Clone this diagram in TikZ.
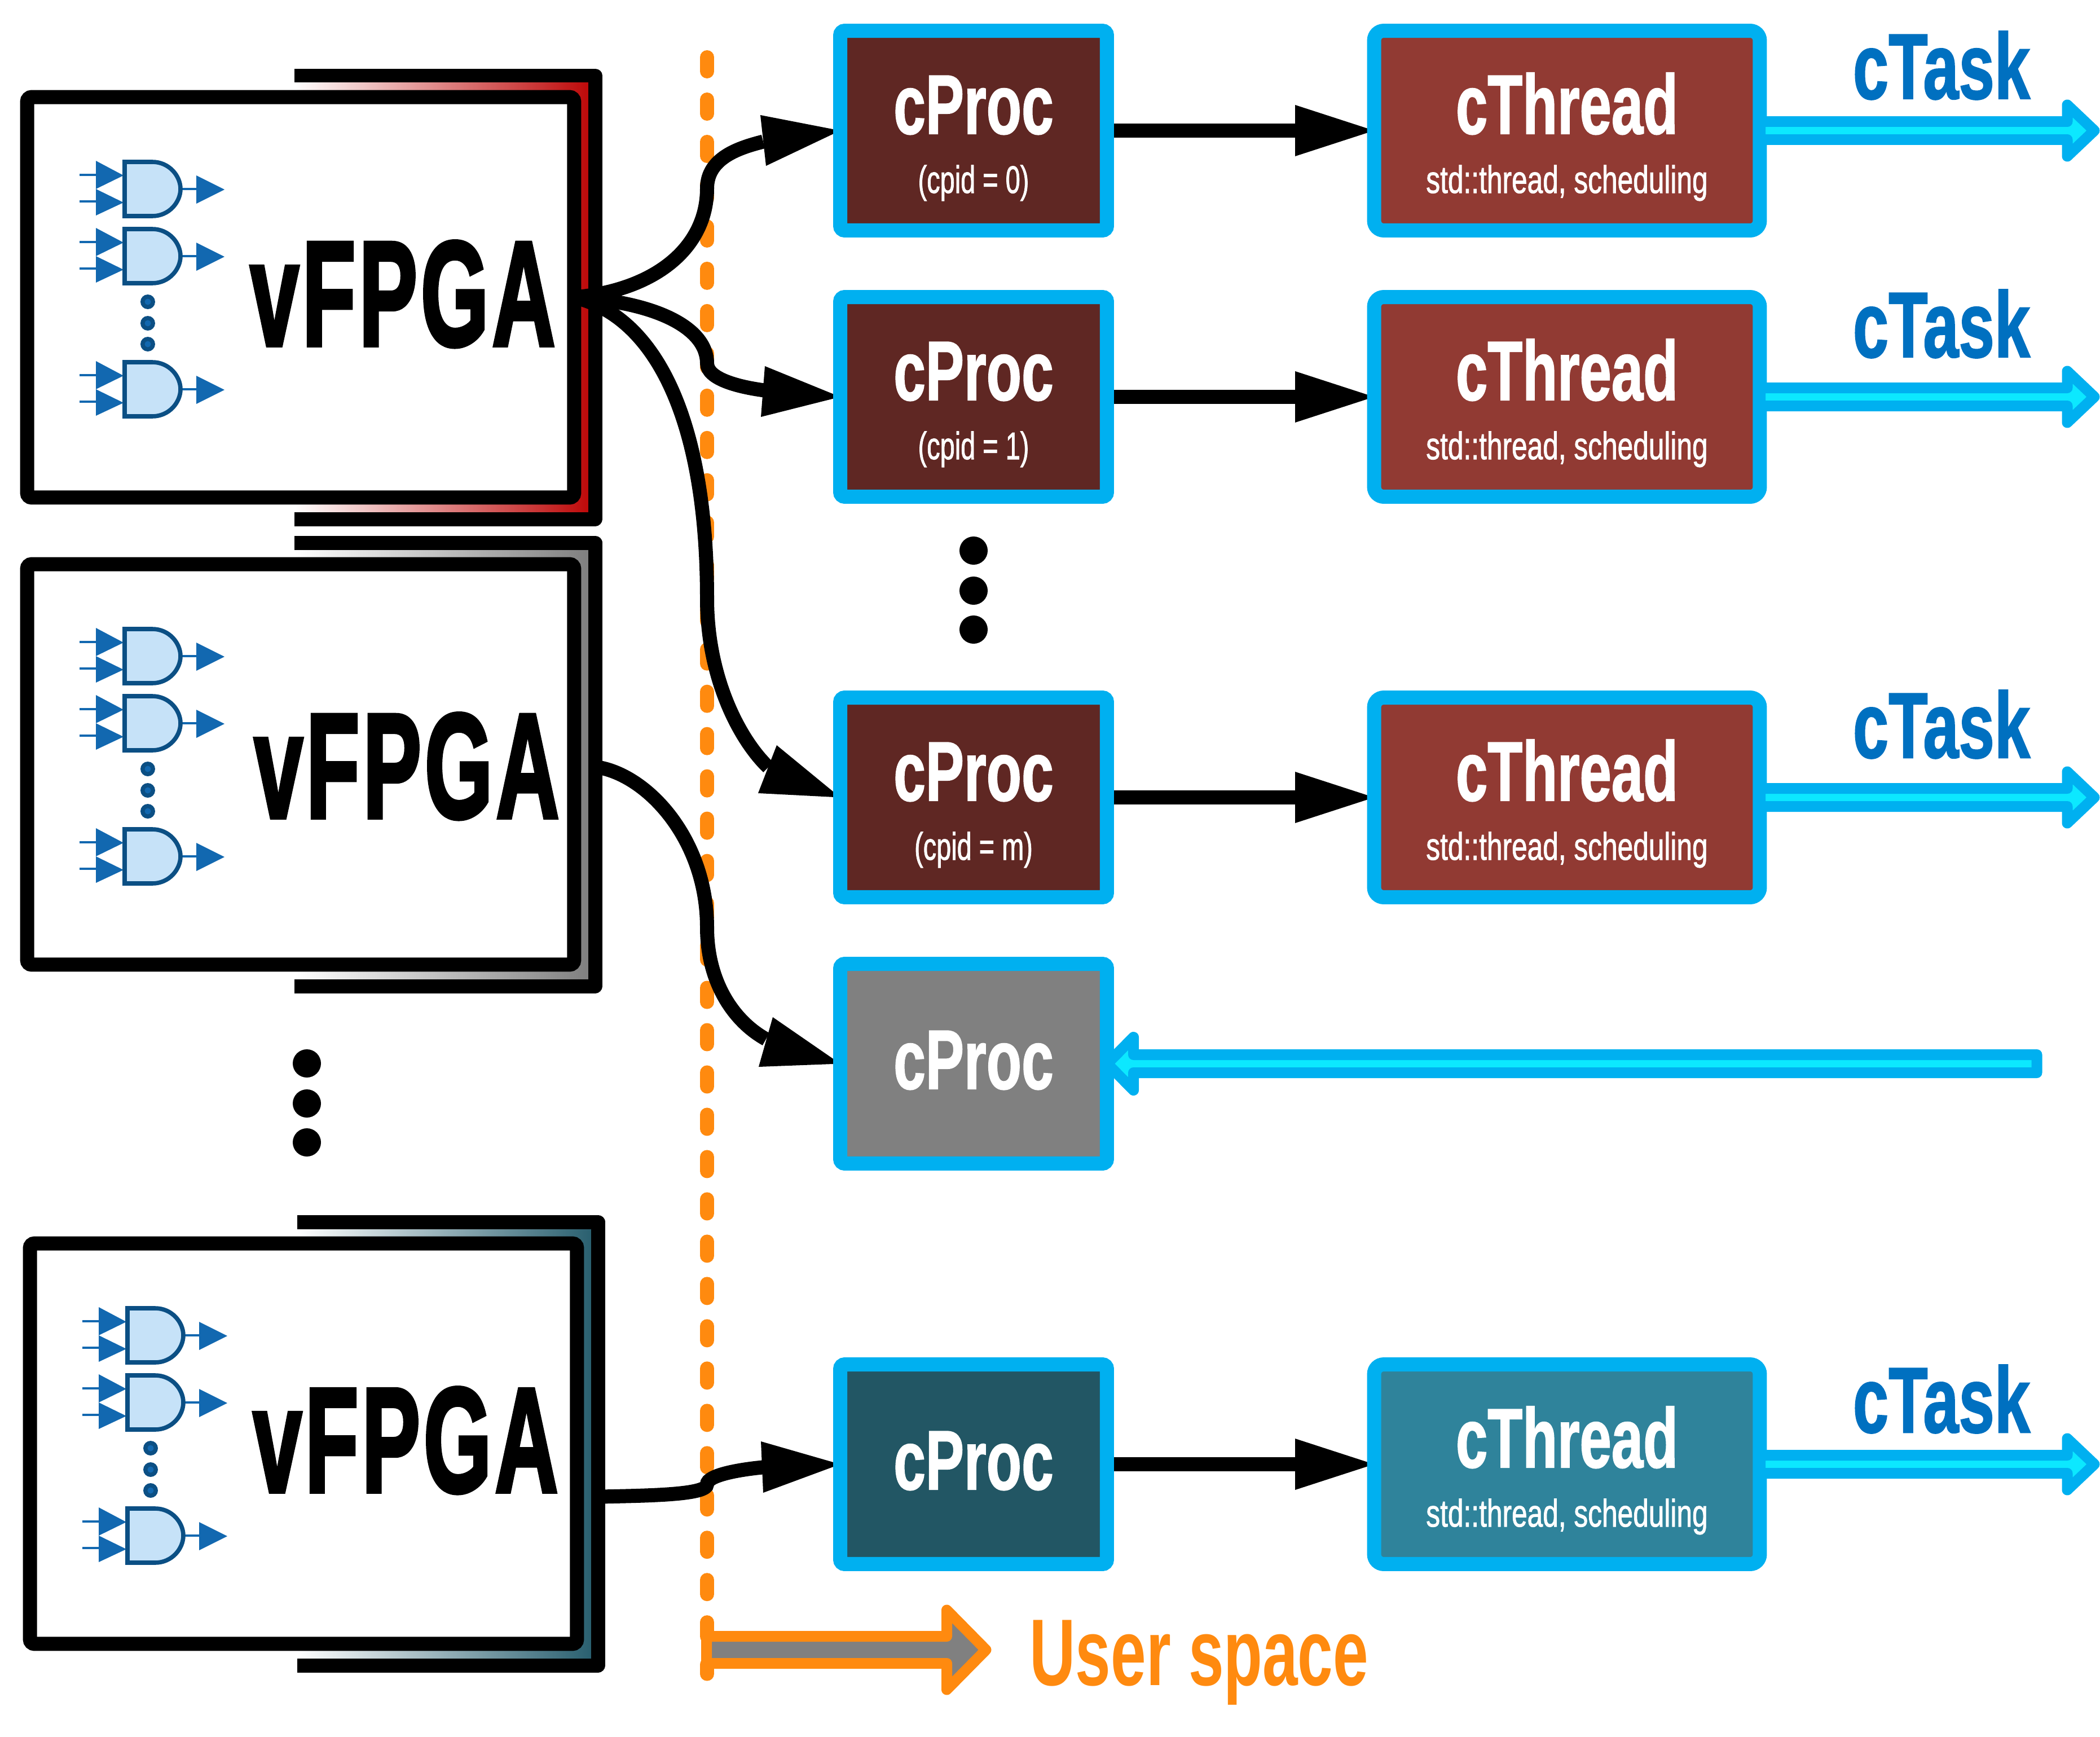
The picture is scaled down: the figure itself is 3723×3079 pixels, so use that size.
\documentclass[tikz,border=0pt]{standalone}
\usepackage{graphicx}
\usepackage{fontspec}
\setmainfont{Liberation Sans}
\newfontfamily\dinheavy[UprightFont=* Bold,FakeBold=3,LetterSpace=4]{Liberation Sans}
\newfontfamily\dinbold[UprightFont=* Bold,FakeBold=1.5]{Liberation Sans}
\newfontfamily\dinsub[FakeBold=1.5]{Liberation Sans}
\pgfdeclarelayer{under}
\pgfdeclarelayer{conn}
\pgfdeclarelayer{over}
\pgfsetlayers{under,conn,main,over}
\definecolor{cyanO}{HTML}{00B0F0}
\definecolor{cyanI}{HTML}{0CE8FF}
\definecolor{orangeL}{HTML}{FF8A0F}
\definecolor{taskB}{HTML}{0070C0}
\definecolor{gateD}{HTML}{0B4F84}
\definecolor{gateM}{HTML}{1268B0}
\definecolor{gateF}{HTML}{C6E2F8}
\definecolor{redB}{HTML}{BE0A0A}
\definecolor{grayB}{HTML}{808080}
\definecolor{tealB}{HTML}{2A6070}
\definecolor{procA}{HTML}{5F2723}
\definecolor{threadA}{HTML}{913A33}
\definecolor{procT}{HTML}{225664}
\definecolor{threadT}{HTML}{2F839B}
\newcommand{\cprocbox}[4]{% name, y-centre, fill, sub
  \node[procbox,fill=#3] (#1) at (1726,#2) {};
  \node[txt,font=\dinbold\fontsize{84.8pt}{85pt}\selectfont] at (1726,#2+5.5) {\scalebox{0.685}[1]{cProc}};
  \node[txt,font=\dinsub\fontsize{38.7pt}{39pt}\selectfont] at (1726,#2+110.5) {\scalebox{0.69}[1]{#4}};
}
\newcommand{\cthreadbox}[4]{% name, y-centre, fill, cTask baseline
  \node[threadbox,fill=#3] (#1) at (2778,#2) {};
  \node[txt,font=\dinbold\fontsize{84.8pt}{85pt}\selectfont] at (2778,#2+5.5) {\scalebox{0.68}[1]{cThread}};
  \node[txt,font=\dinsub\fontsize{38.7pt}{39pt}\selectfont] at (2778,#2+110.5) {\scalebox{0.73}[1]{std::thread, scheduling}};
  \node[txt,font=\dinbold\fontsize{93.9pt}{94pt}\selectfont,text=taskB] at (3442,#4) {\scalebox{0.69}[1]{cTask}};
}
\newcommand{\gate}[2]{% x,y offset of the gate
  \begin{scope}[shift={(#1,#2)}]
    \fill[gateM] (0,23)--(0,73)--(49,49)--cycle (0,73)--(0,120)--(49,97)--cycle (178,49)--(178,99)--(228,74)--cycle;
    \draw[gateM,line width=4.6*0.569pt] (-29,48)--(0,48) (-29,95)--(0,95) (150,73)--(178,73);
    \draw[gateD,fill=gateF,line width=7.6*0.569pt,line join=miter] (51,25)--(100,25) .. controls (130,25) and (150,50) .. (150,73) .. controls (150,96) and (130,121) .. (100,121) -- (51,121) -- cycle;
  \end{scope}
}
\newcommand{\gatedots}[2]{
  \begin{scope}[shift={(#1,#2)}]
    \foreach \yy in {535,573,610}{
      \fill[gateD] (262,\yy) circle[radius=13];
      \fill[gateM] (262,\yy) circle[radius=5.5];
    }
  \end{scope}
}
\newcommand{\fpgabox}[4]{% name, dx, dy, colour
  \begin{scope}[shift={(#2,#3)}]
    \shade[left color=white,right color=#4,shading=axis] (522,147) rectangle (1043,907);
    \draw[blk] (522,134)--(1055,134)--(1055,920)--(522,920);
    \node[draw=black,fill=white,line width=25*0.569pt,rounded corners=8*0.569pt,minimum width=970*0.569pt,minimum height=710*0.569pt,inner sep=0pt,outer sep=0pt] (#1) at (533,527) {};
  \end{scope}
}
\tikzset{
  x=0.02cm,y=-0.02cm,
  blk/.style={draw=black,line width=25*0.569pt,line join=round},
  txt/.style={text=white,inner sep=0pt,anchor=base},
  vtext/.style={inner sep=0pt,anchor=base,font=\dinheavy\fontsize{150pt}{150pt}\selectfont},
  procbox/.style={draw=cyanO,line width=25*0.569pt,rounded corners=8*0.569pt,minimum width=473*0.569pt,minimum height=354*0.569pt,inner sep=0pt,outer sep=0pt},
  threadbox/.style={draw=cyanO,line width=25*0.569pt,rounded corners=17*0.569pt,minimum width=684*0.569pt,minimum height=354*0.569pt,inner sep=0pt,outer sep=0pt},
  conn/.style={draw=black,line width=25*0.569pt},
  wide/.style={cyanO,fill=cyanI,line width=19*0.569pt,line join=round},
}
\begin{document}
\begin{tikzpicture}
\useasboundingbox (0,0) rectangle (3723,3079);
\begin{pgfonlayer}{under}
\fill[white] (0,0) rectangle (3723,3079);
\coordinate (ds) at (1253.5,101.5);
\coordinate (de) at (1253.5,2967);
\draw[orangeL,line width=25*0.569pt,line cap=round,dash pattern=on 25*0.569pt off 50*0.569pt] (ds)--(de);
\fpgabox{fa}{0}{0}{redB}
\fpgabox{fb}{0}{828}{grayB}
\fpgabox{fc}{5}{2032}{tealB}
\foreach \dx/\dy in {0/0,0/828,5/2032}{
  \gate{\dx+170}{\dy+262}
  \gate{\dx+170}{\dy+381}
  \gate{\dx+170}{\dy+617}
  \gatedots{\dx}{\dy}
}
\node[vtext] (va) at (714,612) {\scalebox{0.587}[1]{vFPGA}};
\node[vtext] (vb) at (721,1449) {\scalebox{0.587}[1]{vFPGA}};
\node[vtext] (vc) at (719,2644) {\scalebox{0.587}[1]{vFPGA}};
\draw[wide] (3611,1869.5)--(2009.5,1869.5)--(2009.5,1838.5)--(1963,1885.5)--(2009.5,1932.5)--(2009.5,1901.5)--(3611,1901.5)--cycle;
\end{pgfonlayer}
% Proc & thread
\cprocbox{p0}{231.5}{procA}{(cpid = 0)}
\cprocbox{p1}{703.5}{procA}{(cpid = 1)}
\cprocbox{pm}{1413.5}{procA}{(cpid = m)}
\node[procbox,fill=grayB] (pg) at (1726,1885.5) {};
\node[txt,font=\dinbold\fontsize{84.8pt}{85pt}\selectfont] at (1726,1930) {\scalebox{0.685}[1]{cProc}};
\node[procbox,fill=procT] (pt) at (1726,2595.5) {};
\node[txt,font=\dinbold\fontsize{84.8pt}{85pt}\selectfont] at (1726,2640) {\scalebox{0.685}[1]{cProc}};
\cthreadbox{t0}{231.5}{threadA}{175}
\cthreadbox{t1}{703.5}{threadA}{633}
\cthreadbox{tm}{1413.5}{threadA}{1343}
\cthreadbox{tt}{2595.5}{threadT}{2539}
\begin{pgfonlayer}{conn}
% horizontal black
\foreach \a/\b/\yy in {p0/t0/231.5,p1/t1/703.5,pm/tm/1413.5,pt/tt/2595.5}{
  \draw[conn] (\a.east)--(2300,\yy);
  \fill[black] (2296,\yy-45.5)--(\b.west)--(2296,\yy+45.5)--cycle;
}
% curves
\draw[conn] (fa.east) .. controls (1160,515) and (1253.5,440) .. (1253.5,334) .. controls (1253.5,280) and (1310,262) .. (1353,251);
\fill[black] (1348,204)--(p0.west)--(1358,294)--cycle;
\draw[conn] (fa.east) .. controls (1160,535) and (1253.5,580) .. (1253.5,644) .. controls (1253.5,672) and (1310,686) .. (1355,692);
\fill[black] (1356,649)--(p1.west)--(1349,739)--cycle;
\draw[conn] (fa.east) .. controls (1160,560) and (1253.5,740) .. (1253.5,1061) .. controls (1253.5,1200) and (1310,1310) .. (1362,1360);
\fill[black] (1377,1321)--(pm.west)--(1344,1406)--cycle;
\coordinate (sb) at (1060,1360);
\draw[conn] (sb) .. controls (1150,1375) and (1253.5,1490) .. (1253.5,1644) .. controls (1253.5,1740) and (1300,1810) .. (1358,1842);
\fill[black] (1370,1803)--(pg.west)--(1345,1891)--cycle;
\coordinate (sc) at (1065,2653);
\draw[conn] (sc) .. controls (1150,2651) and (1253.5,2650) .. (1253.5,2631) .. controls (1253.5,2615) and (1310,2605) .. (1352,2601);
\fill[black] (1349,2555)--(pt.west)--(1353,2646)--cycle;
\end{pgfonlayer}
\begin{pgfonlayer}{over}
% cyan arrows
\foreach \yy in {231.5,703.5,1413.5,2595.5}{
  \draw[wide] (3120.5,\yy-16)--(3665,\yy-16)--(3665,\yy-45.5)--(3713,\yy)--(3665,\yy+45.5)--(3665,\yy+16)--(3120.5,\yy+16)--cycle;
}
% black dots
\foreach \yy in {976,1047,1116}{\fill[black] (1726,\yy) circle[radius=25];}
\foreach \yy in {1885,1956,2025}{\fill[black] (544,\yy) circle[radius=25];}
% user space
\draw[orangeL,fill=grayB,line width=19*0.569pt,line join=round] (1252.5,2900.5)--(1678.5,2900.5)--(1678.5,2854)--(1748,2924.5)--(1678.5,2995)--(1678.5,2948.5)--(1252.5,2948.5)--cycle;
\node[inner sep=0pt,anchor=base,text=orangeL,font=\fontsize{95.6pt}{96pt}\selectfont\bfseries] (us) at (2126,2987) {\scalebox{0.67}[1]{User space}};
\end{pgfonlayer}
\end{tikzpicture}
\end{document}
